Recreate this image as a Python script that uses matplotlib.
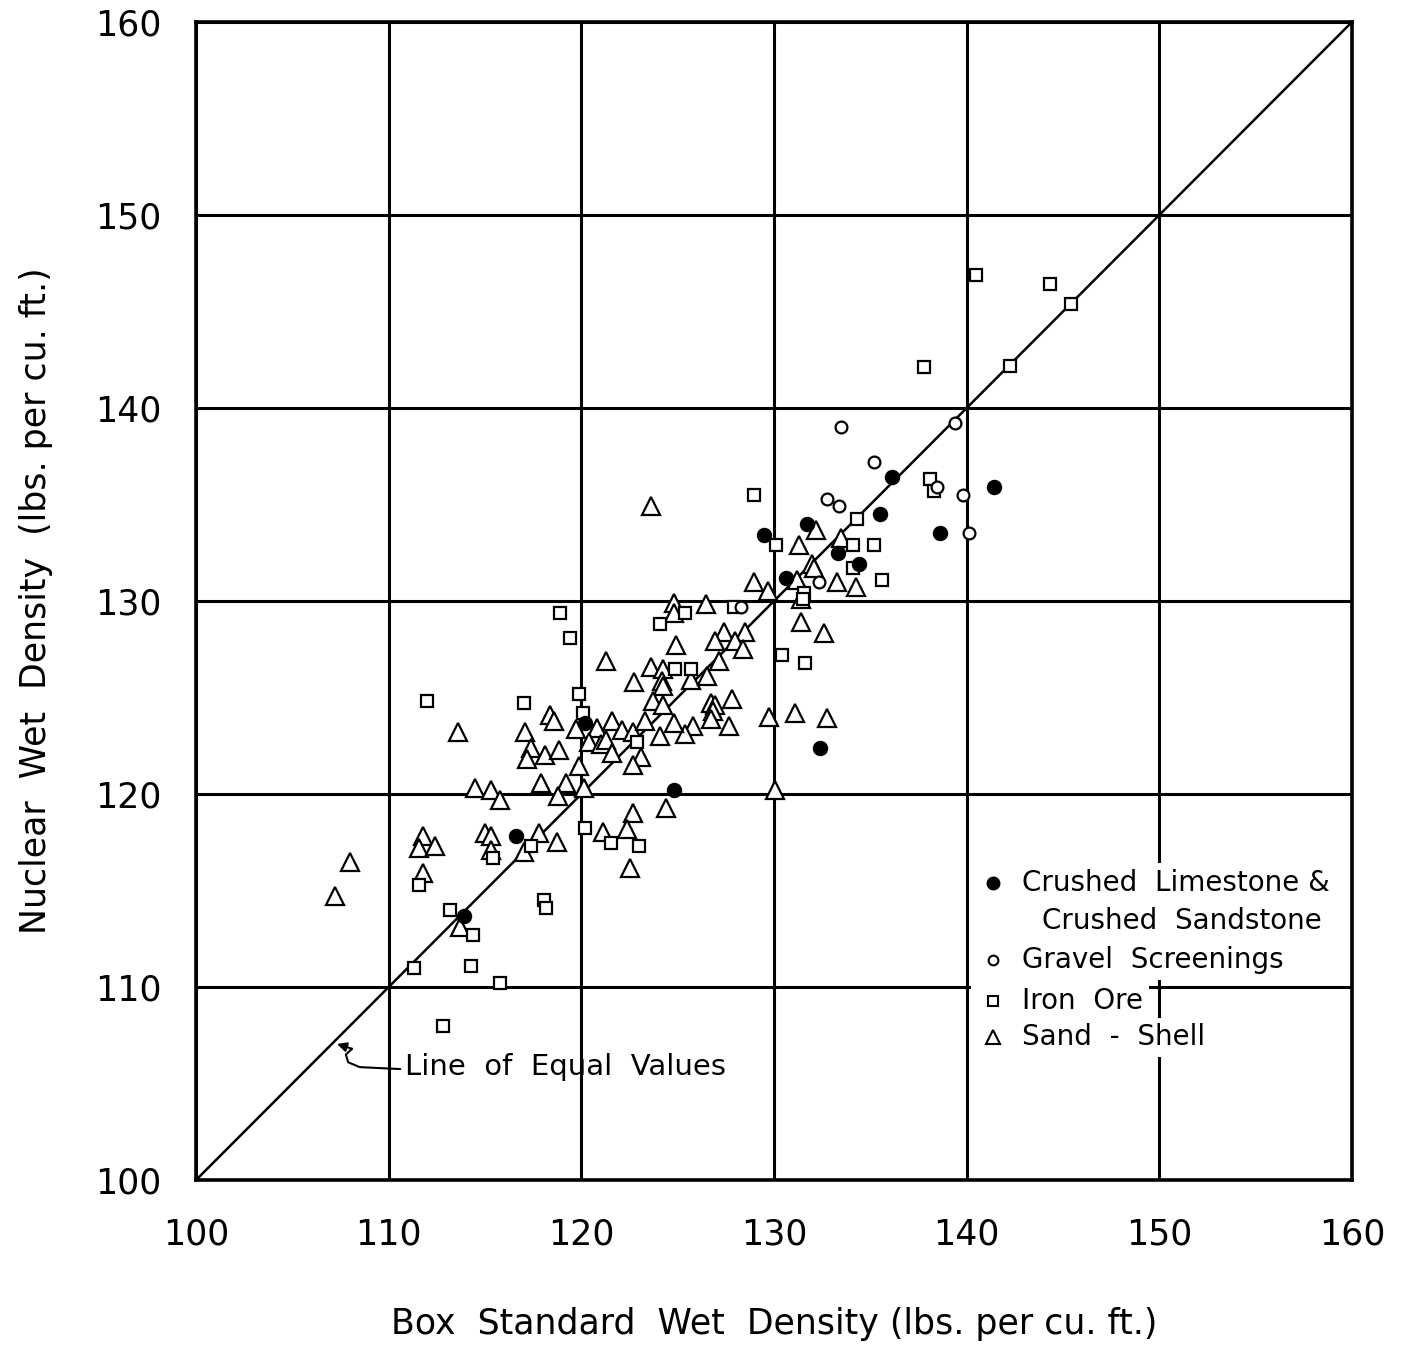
import numpy as np
import matplotlib
matplotlib.use("Agg")
import matplotlib.pyplot as plt

# Crushed limestone & crushed sandstone (filled circles)
cl_x = [113.9, 116.6, 120.2, 124.8, 129.5, 130.6, 131.7, 133.3, 134.4, 135.5, 136.1, 138.6, 141.4, 132.4]
cl_y = [113.7, 117.8, 123.7, 120.2, 133.4, 131.2, 134.0, 132.5, 131.9, 134.5, 136.4, 133.5, 135.9, 122.4]

# Gravel screenings (open circles)
gs_x = [133.5, 135.2, 139.4, 132.75, 133.4, 138.45, 139.8, 140.1, 132.35, 128.3]
gs_y = [139.0, 137.2, 139.2, 135.3, 134.9, 135.9, 135.5, 133.5, 131.0, 129.7]

# Iron ore (squares)
io_x = [140.5, 144.3, 145.4, 137.8, 142.25,
        128.95, 138.1, 138.3, 134.3, 130.1, 134.1, 135.2, 134.1, 135.6, 131.55, 131.5, 130.4, 131.6,
        118.9, 119.4, 124.1, 125.4, 127.9, 124.85, 125.7, 119.9, 120.1, 122.9, 120.2, 121.55, 123.0,
        112.0, 117.0, 117.4, 115.4, 111.6, 113.2, 118.05, 118.15, 114.4, 111.3, 114.25, 115.8, 112.8]
io_y = [146.9, 146.4, 145.4, 142.1, 142.2,
        135.5, 136.3, 135.7, 134.25, 132.9, 132.9, 132.9, 131.7, 131.1, 130.4, 130.1, 127.2, 126.8,
        129.4, 128.1, 128.8, 129.4, 129.7, 126.5, 126.5, 125.2, 124.2, 122.7, 118.25, 117.45, 117.3,
        124.8, 124.7, 117.3, 116.7, 115.3, 114.0, 114.5, 114.1, 112.7, 111.0, 111.1, 110.2, 108.0]

# Sand - shell (triangles)
ss_x = [107.2, 108.0, 113.6, 114.5, 115.3, 115.8, 111.8, 111.6, 112.4, 115.0, 115.3, 115.3, 111.8, 113.7,
        122.75, 118.4, 118.6, 117.1, 117.4, 117.2, 118.1, 118.85, 119.7, 119.9, 117.9, 119.2, 118.8, 120.15,
        120.8, 121.6, 122.1, 120.4, 121.0, 121.3, 121.6, 122.7, 123.3, 123.1, 122.7, 122.7, 124.4, 121.1,
        122.35, 117.8, 118.75, 117.0, 122.55, 128.97, 129.7, 124.8, 124.8, 126.45, 127.4, 126.95, 128.5,
        128.0, 128.4, 124.9, 127.15, 123.6, 124.25, 124.2, 124.25, 125.7, 126.5, 123.7, 124.25, 126.75,
        126.95, 127.8, 126.85, 126.75, 127.65, 125.8, 125.4, 124.8, 124.1, 129.75, 131.1, 130.05, 132.2,
        131.3, 133.5, 131.95, 132.1, 131.2, 133.25, 134.25, 131.4, 131.4, 132.6, 132.75, 123.6, 121.3]
ss_y = [114.7, 116.5, 123.2, 120.3, 120.2, 119.7, 117.8, 117.2, 117.3, 118.0, 117.8, 117.1, 115.9, 113.1,
        125.8, 124.1, 123.8, 123.2, 122.4, 121.8, 122.0, 122.3, 123.35, 121.45, 120.55, 120.55, 119.9, 120.3,
        123.4, 123.8, 123.3, 122.7, 122.6, 122.8, 122.1, 123.2, 123.8, 121.9, 121.5, 119.0, 119.3, 118.05,
        118.2, 118.0, 117.5, 117.0, 116.15, 131.0, 130.5, 129.9, 129.4, 129.85, 128.4, 127.95, 128.4,
        127.95, 127.5, 127.7, 126.9, 126.6, 126.5, 125.85, 125.6, 125.9, 126.1, 124.8, 124.6, 124.7,
        124.6, 124.9, 124.3, 123.9, 123.5, 123.5, 123.1, 123.7, 123.0, 124.0, 124.2, 120.2, 133.7,
        132.9, 133.25, 131.9, 131.7, 131.1, 130.96, 130.75, 130.1, 128.9, 128.35, 123.95, 134.9, 126.9]

ticks = [100, 110, 120, 130, 140, 150, 160]
legend_labels = ["Crushed  Limestone &", "Gravel  Screenings", "Iron  Ore", "Sand  -  Shell"]

plt.rcParams['font.family'] = ['DejaVu Sans']

fig = plt.figure(figsize=(14.07, 13.48), dpi=100)
ax = fig.add_axes([0.1393, 0.1246, 0.8216, 0.8591])
ax.set_xlim(100, 160)
ax.set_ylim(100, 160)
ax.set_xticks(ticks)
ax.set_yticks(ticks)
ax.tick_params(length=0, labelsize=25)
ax.tick_params(axis='x', pad=27)
ax.tick_params(axis='y', pad=25)
ax.grid(True, color='black', linewidth=2.2, zorder=1)
for s in ax.spines.values():
    s.set_linewidth(2.6)

# line of equal values
ax.plot([100, 160], [100, 160], color='black', linewidth=1.8, zorder=2)

mk = dict(linestyle='none', color='black', markeredgewidth=1.6, zorder=3)
ax.plot(ss_x, ss_y, marker='^', markersize=13, markerfacecolor='white', **mk)
ax.plot(io_x, io_y, marker='s', markersize=8, markerfacecolor='white', **mk)
ax.plot(gs_x, gs_y, marker='o', markersize=8.5, markerfacecolor='white', **mk)
ax.plot(cl_x, cl_y, marker='o', markersize=9.5, markerfacecolor='black', **mk)

# label for the diagonal with a small hooked leader
ax.text(110.85, 105.85, "Line  of  Equal  Values", fontsize=21, va='center', ha='left')
ax.plot([110.6, 108.5, 107.9, 107.78, 108.1], [105.75, 105.85, 106.1, 106.5, 106.8],
        color='black', lw=1.5, solid_capstyle='round')
ax.annotate("", xy=(107.32, 107.05), xytext=(108.1, 106.8),
            arrowprops=dict(arrowstyle='-|>', color='black', lw=1.5, mutation_scale=14,
                            shrinkA=0, shrinkB=0))

# legend rows; each row blanks out the grid behind it
leg_rows = [('o', 'black', 8.5, 115.4), ('o', 'white', 7, 111.4),
            ('s', 'white', 7, 109.3), ('^', 'white', 9.5, 107.4)]
for (m, fc, ms, yy), lab in zip(leg_rows, legend_labels):
    ax.add_patch(plt.Rectangle((140.2, yy - 0.8), 2.8, 1.6, facecolor='white',
                               edgecolor='none', zorder=4))
    ax.plot([141.37], [yy], marker=m, markersize=ms, markerfacecolor=fc,
            color='black', markeredgewidth=1.5, zorder=5)
    ax.text(142.87, yy, lab, fontsize=20, va='center', ha='left', zorder=5,
            bbox=dict(facecolor='white', edgecolor='none', pad=4))
ax.text(143.9, 113.4, "Crushed  Sandstone", fontsize=20, va='center', ha='left', zorder=5,
        bbox=dict(facecolor='white', edgecolor='none', pad=4))

ax.set_xlabel("Box  Standard  Wet  Density (lbs. per cu. ft.)", fontsize=25, labelpad=40)
ax.set_ylabel("Nuclear  Wet  Density  (lbs. per cu. ft.)", fontsize=25, labelpad=30)

fig.savefig("out.png", dpi=100)
